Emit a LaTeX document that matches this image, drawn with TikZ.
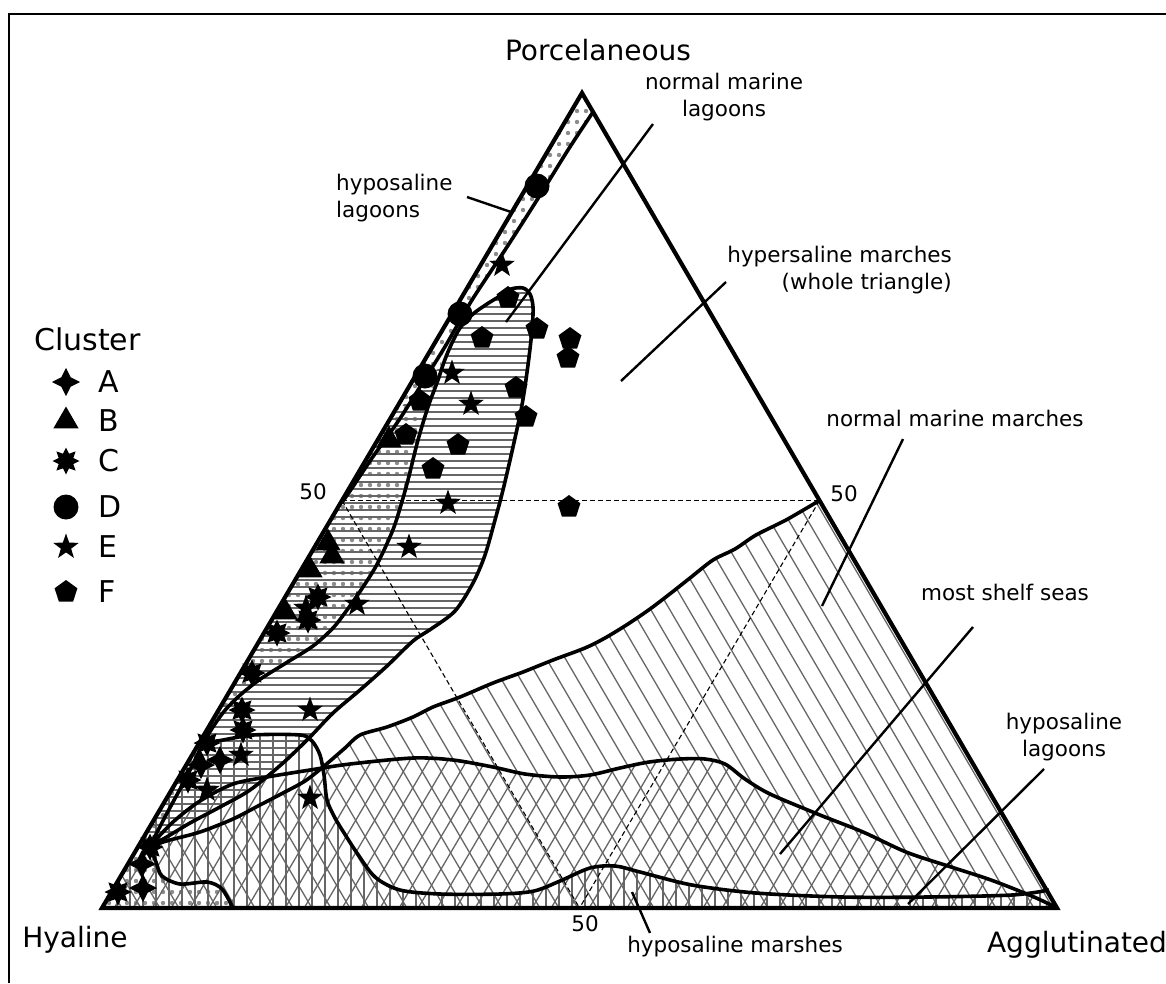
\documentclass[tikz,border=0pt]{standalone}
\usepackage{fontspec}
\setmainfont{DejaVu Sans}
\usetikzlibrary{shapes.geometric}

\begin{document}
\begin{tikzpicture}[x=1pt,y=-1pt,
    edge/.style={line width=4.2pt, line join=miter},
    bound/.style={line width=3.6pt, line join=round},
    leader/.style={line width=2.4pt},
    guide/.style={line width=1.1pt, dash pattern=on 5pt off 3pt},
    hatch/.style={black!60, line width=1.3pt},
    dotfill/.style={fill=black!45},
    symb/.style={fill=black, draw=none, inner sep=0pt},
    symbA/.style={symb, star, star points=4, star point ratio=2.1, minimum size=28pt},
    symbB/.style={symb, regular polygon, regular polygon sides=3, minimum size=29pt},
    symbC/.style={symb, star, star points=8, star point ratio=1.7, minimum size=27pt},
    symbD/.style={symb, circle, minimum size=25pt},
    symbE/.style={symb, star, star points=5, star point ratio=2.5, minimum size=27pt},
    symbF/.style={symb, regular polygon, regular polygon sides=5, minimum size=24pt},
    small/.style={inner sep=0pt, font=\fontsize{21.5}{27}\selectfont},
    big/.style={inner sep=0pt, font=\fontsize{28}{34}\selectfont},
    legend/.style={inner sep=0pt, font=\fontsize{30}{36}\selectfont}]
  \useasboundingbox (0,0) rectangle (1166,983);

  % Corners and mid points
  \coordinate (H) at (102,908);
  \coordinate (A) at (1057,908);
  \coordinate (P) at (582,93);
  \coordinate (mL) at (342,500.5);
  \coordinate (mR) at (819.5,500.5);
  \coordinate (mB) at (579.5,908);
  \coordinate (K) at (150,846);

  % Frame
  \draw[line width=2.5pt] (9,983) -- (9,14) -- (1166,14);

  % Dots: hyposaline lagoons
  \begin{scope}
    \clip (P) -- plot[smooth] coordinates {(593,112) (568,150) (537,200) (505,250) (472,300) (446,345) (440,372)}
      -- plot[smooth] coordinates {(438,380) (428,407) (418,440) (408,480) (401,505) (394,527) (385,548) (375,568) (361,590) (347,610) (333,628) (313,646) (286,663) (259,680) (238,697) (222,714) (205,740) (186,778) (166,815) (150,846)}
      -- plot[smooth] coordinates {(156,862) (162,876) (180,884) (207,882) (222,889) (233,908)}
      -- (H) -- cycle;
    \foreach \y in {100,111,...,910}
      \foreach \x in {100,109,...,600}
        \fill[dotfill] (\x,\y) circle (2.2);
  \end{scope}

  % Horizontal lines: normal marine lagoons
  \begin{scope}
    \clip plot[smooth] coordinates {(150,846) (165,838) (190,823) (220,807) (250,790) (283,763) (310,737) (333,713) (360,690) (387,666) (413,641) (431,629) (455,611) (473,583) (485,555) (495,520) (503,490) (513,447) (522,405) (528,365) (532,330) (533,307) (530,294) (523,288) (511,289) (500,296) (487,304) (473,314) (460,328) (451,345) (444,362)}
      -- (389,420) -- (138.5,846) -- cycle;
    \foreach \y in {286,293,...,850}
      \draw[hatch] (100,\y) -- (560,\y);
  \end{scope}

  % Vertical lines: hyposaline marshes
  \begin{scope}
    \clip plot[smooth] coordinates {(201,741) (217,741) (253,735) (300,735) (312,741) (320,755) (324,775) (327,800) (335,818) (346,836) (357,853) (375,877) (400,890) (440,894) (500,894) (534,891) (560,881) (590,868) (615,866) (640,872) (692,885) (756,893) (842,897) (927,897) (1012,895) (1049,890)}
      -- (A) -- (H) -- cycle;
    \foreach \x in {104,117,...,1056}
      \draw[hatch] (\x,728) -- (\x,910);
  \end{scope}

  % Diagonal lines: normal marine marches
  \begin{scope}
    \clip plot[smooth] coordinates {(819.5,500.5) (786,520) (756,535) (735,549) (713,560) (690,578) (671,593) (650,609) (628,624) (605,638) (585,648) (553,660) (523,672) (493,683) (460,697) (433,707) (413,717) (387,727) (360,735) (345,748) (323,767) (305,781) (283,793) (258,806) (233,819) (200,832) (170,840) (150,846)}
      -- (138.5,846) -- (H) -- (A) -- cycle;
    \foreach \x in {-160,-141,...,830}
      \draw[hatch] (\x,490) -- ++(245,420);
  \end{scope}

  % Cross lines: most shelf seas
  \begin{scope}
    \clip plot[smooth] coordinates {(150,846) (173,822) (200,801) (233,784) (267,777) (310,770) (350,764) (413,758) (453,760) (493,767) (525,774) (560,777) (590,775) (620,768) (649,762) (680,759) (705,759) (725,764) (745,779) (770,794) (820,815) (863,832) (906,852) (948,866) (991,880) (1034,897) (1057,908)}
      -- (H) -- (138.5,846) -- cycle;
    \foreach \x in {150,169,...,1180}
      \draw[hatch] (\x,750) -- ++(-94,160);
  \end{scope}

  % 50 % guides
  \draw[guide] (mL) -- (mR);
  \draw[guide] (mL) -- (mB);
  \draw[guide] (mR) -- (mB);

  % Field boundaries
  \draw[bound] plot[smooth] coordinates {(593,112) (568,150) (537,200) (505,250) (472,300) (446,345) (423,382) (399,420) (372,458) (352,488) (343,501)};
  \draw[bound] plot[smooth] coordinates {(150,846) (165,838) (190,823) (220,807) (250,790) (283,763) (310,737) (333,713) (360,690) (387,666) (413,641) (431,629) (455,611) (473,583) (485,555) (495,520) (503,490) (513,447) (522,405) (528,365) (532,330) (533,307) (530,294) (523,288) (511,289) (500,296) (487,304) (473,314) (460,328) (451,345) (444,362) (438,380) (428,407) (418,440) (408,480) (401,505) (394,527) (385,548) (375,568) (361,590) (347,610) (333,628) (313,646) (286,663) (259,680) (238,697) (222,714) (205,740) (186,778) (166,815) (150,846)};
  \draw[bound] plot[smooth] coordinates {(819.5,500.5) (786,520) (756,535) (735,549) (713,560) (690,578) (671,593) (650,609) (628,624) (605,638) (585,648) (553,660) (523,672) (493,683) (460,697) (433,707) (413,717) (387,727) (360,735) (345,748) (323,767) (305,781) (283,793) (258,806) (233,819) (200,832) (170,840) (150,846)};
  \draw[bound] plot[smooth] coordinates {(150,846) (173,822) (200,801) (233,784) (267,777) (310,770) (350,764) (413,758) (453,760) (493,767) (525,774) (560,777) (590,775) (620,768) (649,762) (680,759) (705,759) (725,764) (745,779) (770,794) (820,815) (863,832) (906,852) (948,866) (991,880) (1034,897) (1057,908)};
  \draw[bound] plot[smooth] coordinates {(201,741) (217,741) (253,735) (300,735) (312,741) (320,755) (324,775) (327,800) (335,818) (346,836) (357,853) (375,877) (400,890) (440,894) (500,894) (534,891) (560,881) (590,868) (615,866) (640,872) (692,885) (756,893) (842,897) (927,897) (1012,895) (1049,890)};
  \draw[bound] plot[smooth] coordinates {(150,846) (156,862) (162,876) (180,884) (207,882) (222,889) (233,908)};

  % Triangle
  \draw[edge] (H) -- (P) -- (A) -- cycle;

  % Leaders
  \coordinate (ldHL1) at (467,197);  \coordinate (ldHL2) at (511,212);
  \coordinate (ldNL1) at (653,124);  \coordinate (ldNL2) at (506,322);
  \coordinate (ldHM1) at (726,282);  \coordinate (ldHM2) at (621,381);
  \coordinate (ldNM1) at (903,439);  \coordinate (ldNM2) at (822,606);
  \coordinate (ldSS1) at (973,627);  \coordinate (ldSS2) at (780,854);
  \coordinate (ldHB1) at (1044,769); \coordinate (ldHB2) at (908,904);
  \coordinate (ldMA1) at (632,892);  \coordinate (ldMA2) at (650,933);
  \draw[leader] (ldHL1) -- (ldHL2);
  \draw[leader] (ldNL1) -- (ldNL2);
  \draw[leader] (ldHM1) -- (ldHM2);
  \draw[leader] (ldNM1) -- (ldNM2);
  \draw[leader] (ldSS1) -- (ldSS2);
  \draw[leader] (ldHB1) -- (ldHB2);
  \draw[leader] (ldMA1) -- (ldMA2);

  % Samples
  \foreach \p [count=\i] in {(220,760),(201,765),(142,864),(143,888)}
    \node[symbA] (a\i) at \p {};
  \foreach \p [count=\i] in {(389,440),(328,543),(332,556),(310,570),(285,612)}
    \node[symbB] (b\i) at \p {};
  \foreach \p [count=\i] in {(318,597),(308,620),(277,633),(252,673),(242,710),(243,730),(207,743),(188,780),(150,847),(118,892)}
    \node[symbC] (c\i) at \p {};
  \foreach \p [count=\i] in {(537,186),(460,314),(425,376)}
    \node[symbD] (d\i) at \p {};
  \foreach \p [count=\i] in {(502,265),(452,373),(471,404),(448,503),(409,547),(357,604),(306,608),(310,710),(241,755),(207,790),(310,798)}
    \node[symbE] (e\i) at \p {};
  \foreach \p [count=\i] in {(508,298),(482,338),(537,329),(570,339),(568,358),(420,401),(516,388),(526,417),(406,435),(458,445),(433,469),(569,507)}
    \node[symbF] (f\i) at \p {};

  % Legend
  \node[legend] (cluster) at (87.5,339) {Cluster};
  \foreach \s/\l/\y in {A/A/382, B/B/421, C/C/461, D/D/507, E/E/547, F/F/592} {
    \node[symb\s] (key\s) at (66,\y) {};
    \node[legend, anchor=west] (txt\s) at (98,\y) {\l};
  }

  % Corner labels and 50 ticks
  \node[big] (porc) at (598,50) {Porcelaneous};
  \node[big] (hyal) at (75,940) {Hyaline};
  \node[big] (aggl) at (1077,945) {Agglutinated};
  \node[small] (tickL) at (313,492) {50};
  \node[small] (tickR) at (844,494) {50};
  \node[small] (tickB) at (585,924) {50};

  % Field labels
  \node[small, anchor=west, align=left] (lblHL) at (336,198) {hyposaline\\lagoons};
  \node[small, align=center] (lblNL) at (724,97) {normal marine\\lagoons};
  \node[small, anchor=east, align=right] (lblHM) at (952,270) {hypersaline marches\\(whole triangle)};
  \node[small] (lblNM) at (955,418) {normal marine marches};
  \node[small] (lblSS) at (1005,592) {most shelf seas};
  \node[small, align=center] (lblHB) at (1064,737) {hyposaline\\lagoons};
  \node[small] (lblMA) at (735,947) {hyposaline marshes};
\end{tikzpicture}
\end{document}
